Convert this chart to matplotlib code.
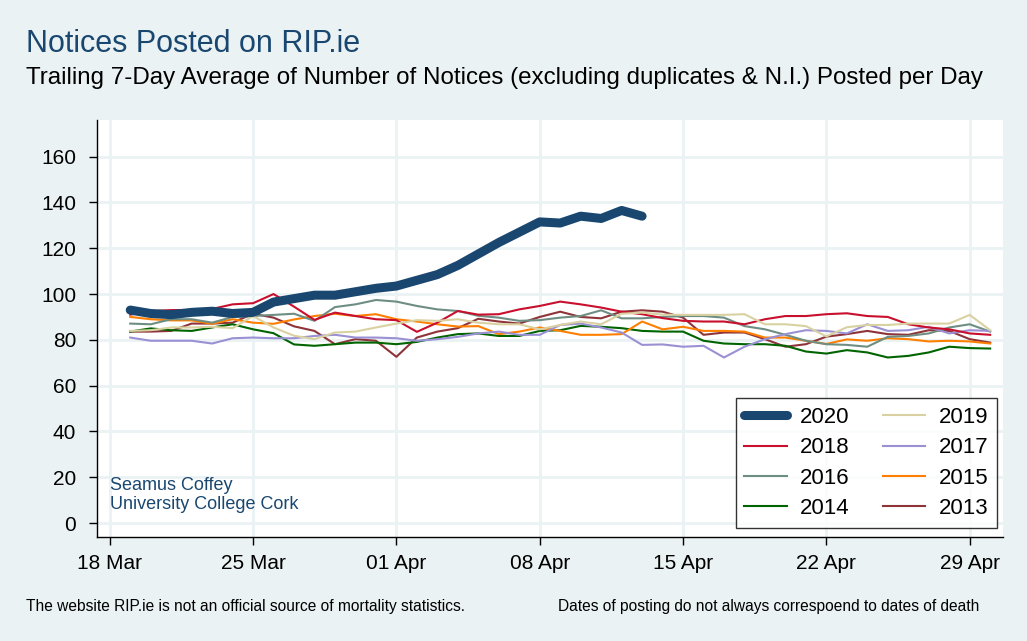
import numpy as np
import pandas as pd
import matplotlib
matplotlib.use("Agg")
import matplotlib.pyplot as plt
import matplotlib.dates as mdates

plt.rcParams['font.family'] = ['Liberation Sans', 'DejaVu Sans']

# Trailing 7-day average of notices per day, 19 Mar .. 30 Apr
dates = pd.date_range("2020-03-19", "2020-04-30", freq="D")

y2020 = [93, 91.5, 91, 92, 92.5, 91.5, 92, 96.5, 98, 99.5, 99.5, 101, 102.5,
         103.5, 106, 108.5, 112.5, 117.5, 122.5, 127, 131.5, 131, 134, 133,
         136.5, 134]
y2019 = [83.9, 84.2, 85.4, 85.4, 85.7, 85.1, 90.4, 85.4, 81.8, 80.3, 83.2,
         83.6, 85.4, 87.1, 88.6, 88.3, 89, 87.5, 86.8, 86.8, 84.6, 86.5, 88,
         86.8, 91.4, 91.9, 91, 90.9, 90.9, 90.9, 91.2, 86.8, 86.8, 86, 81.5,
         85.5, 86.5, 86.5, 87.1, 87.1, 87.1, 90.9, 84.2]
y2018 = [91, 92.5, 93, 93, 93.5, 95.5, 96, 100, 94.5, 88.7, 91.9, 90.4, 89,
         88.6, 83.5, 87.5, 92.6, 91, 91.2, 93.3, 94.8, 96.7, 95.5, 94.1, 92.3,
         91.2, 89.5, 88.3, 88, 88, 86.8, 89, 90.4, 90.4, 91.2, 91.6, 90.4, 90,
         86.8, 85.4, 84.6, 82.8, 82.2]
y2017 = [81, 79.6, 79.6, 79.6, 78.4, 80.7, 81, 80.7, 80.7, 81.7, 82.2, 81,
         81, 80.7, 79.6, 80.3, 81.3, 82.8, 83.6, 82.2, 82.2, 86.5, 87.1, 85.4,
         83.2, 77.8, 78, 77, 77.4, 72.3, 77, 80.3, 82.5, 84.2, 83.9, 82.8,
         86.8, 83.9, 84.2, 85.7, 82.8, 84.2, 83.9]
y2016 = [87.1, 86.8, 89, 89, 87.5, 90, 90.4, 90.9, 91.4, 88.3, 94.3, 95.5,
         97.4, 96.7, 94.8, 93.3, 92.6, 90.5, 89.7, 88.3, 88.6, 89.7, 90.4,
         92.9, 89.4, 89.4, 90, 90.4, 90.4, 89.7, 86, 84.6, 82.2, 79.6, 78.1,
         77.8, 77, 81.3, 81.7, 82.8, 85.4, 86.8, 83.6]
y2015 = [90, 89, 88.5, 88.5, 87, 89, 87.5, 87, 88.9, 90.4, 91.4, 90.4, 91.2,
         89, 88, 86.8, 85.8, 86, 82.5, 83.6, 85.4, 83.9, 82.2, 82.2, 82.5, 88,
         84.6, 85.7, 83.9, 83.9, 83.6, 81, 81, 79.6, 78.2, 80.2, 79.6, 80.7,
         80.3, 79.3, 79.6, 79.3, 78.4]
y2014 = [83.6, 85, 84.2, 83.9, 85.4, 86.8, 84.6, 82.9, 78, 77.4, 78.1, 78.8,
         78.8, 78.1, 79.1, 81, 82.5, 82.8, 81.7, 81.7, 83.9, 84.2, 86.1, 85.7,
         85.1, 83.9, 83.6, 83.6, 79.6, 78.4, 78.1, 78.1, 77.4, 74.9, 74, 75.5,
         74.5, 72.3, 73, 74.5, 77, 76.4, 76.2]
y2013 = [83.6, 83.6, 83.9, 87.1, 87.1, 87.5, 91.4, 89.7, 85.9, 83.9, 78.1,
         80.3, 79.6, 72.6, 81, 83.6, 85.1, 89.2, 88, 87.1, 90, 92.3, 90, 89.4,
         92.3, 92.9, 92.3, 89.7, 82.2, 83.2, 83.2, 80.3, 77, 78.1, 81.4, 82.5,
         83.9, 82.5, 82.2, 84.2, 83.9, 80.3, 78.8]

years = ["2013", "2014", "2015", "2016", "2017", "2018", "2019"]
series = [y2013, y2014, y2015, y2016, y2017, y2018, y2019]
colors = {"2020": "#1A476F", "2019": "#D9D1A1", "2018": "#C8102E",
          "2017": "#9A90D4", "2016": "#6E8E84", "2015": "#FF7F00",
          "2014": "#006400", "2013": "#8E3439"}

bg = "#EAF2F3"
fig = plt.figure(figsize=(10.27, 6.41), dpi=100, facecolor=bg)
ax = fig.add_axes([0.0944, 0.1622, 0.8822, 0.6506])
ax.set_facecolor("white")

handles = {}
for yr, vals in zip(years, series):
    h, = ax.plot(dates[:len(vals)], vals, color=colors[yr], lw=1.5, zorder=3)
    handles[yr] = h
h, = ax.plot(dates[:len(y2020)], y2020, color=colors["2020"], lw=6.5,
             solid_capstyle="round", zorder=4)
handles["2020"] = h

ax.set_ylim(-6.1, 176)
ax.set_yticks(np.arange(0, 161, 20))
ax.set_xlim(pd.Timestamp("2020-03-18") - pd.Timedelta(hours=15),
            pd.Timestamp("2020-04-30") + pd.Timedelta(hours=15))
ax.set_xticks(pd.date_range("2020-03-18", "2020-04-29", freq="7D"))
ax.xaxis.set_major_formatter(mdates.DateFormatter("%d %b"))

ax.grid(True, color=bg, lw=2, zorder=0)
ax.set_axisbelow(True)
for s in ["top", "right"]:
    ax.spines[s].set_visible(False)
for s in ["left", "bottom"]:
    ax.spines[s].set_color("black")
    ax.spines[s].set_linewidth(1)
ax.tick_params(axis="both", direction="out", length=6, width=1,
               labelsize=15, colors="black")
ax.tick_params(axis="x", pad=6)
ax.tick_params(axis="y", pad=9)

order = ["2020", "2018", "2016", "2014", "2019", "2017", "2015", "2013"]
leg = ax.legend([handles[k] for k in order], order, ncol=2, loc="lower right",
                bbox_to_anchor=(0.9935, 0.022), fontsize=16, frameon=True,
                fancybox=False, edgecolor="black", handlelength=1.9,
                handletextpad=0.6, columnspacing=1.5, borderpad=0.4,
                labelspacing=0.42, borderaxespad=0)
leg.get_frame().set_linewidth(1)

ax.text(0.0143, 0.058, "Seamus Coffey\nUniversity College Cork",
        transform=ax.transAxes, color="#1A476F", fontsize=13,
        va="bottom", ha="left", linespacing=1.12)

fig.text(0.025, 0.931, "Notices Posted on RIP.ie", color="#1A476F",
         fontsize=22, va="center", ha="left")
fig.text(0.025, 0.878,
         "Trailing 7-Day Average of Number of Notices (excluding duplicates & N.I.) Posted per Day",
         color="black", fontsize=17.4, va="center", ha="left")
fig.text(0.025, 0.054,
         "The website RIP.ie is not an official source of mortality statistics.",
         fontsize=11.2, va="center", ha="left")
fig.text(0.543, 0.054,
         "Dates of posting do not always correspoend to dates of death",
         fontsize=11.2, va="center", ha="left")

fig.savefig("out.png", dpi=100, facecolor=bg)
